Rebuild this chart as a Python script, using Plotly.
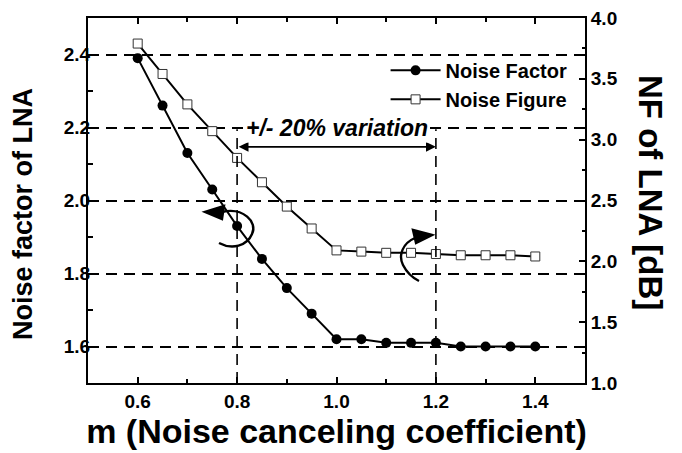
import plotly.graph_objects as go

m = [0.6, 0.65, 0.7, 0.75, 0.8, 0.85, 0.9, 0.95, 1.0, 1.05, 1.1, 1.15, 1.2, 1.25, 1.3, 1.35, 1.4]
noise_factor = [2.39, 2.26, 2.13, 2.03, 1.93, 1.84, 1.76, 1.69, 1.62, 1.62, 1.61, 1.61, 1.61, 1.60, 1.60, 1.60, 1.60]
noise_figure = [3.79, 3.54, 3.29, 3.07, 2.85, 2.65, 2.45, 2.27, 2.09, 2.08, 2.07, 2.07, 2.06, 2.05, 2.05, 2.05, 2.04]

variation_lo, variation_hi = 0.8, 1.2

FONT = "Liberation Sans, Arial, sans-serif"
DASH = "11px,7px"

# the page body adds an 8px offset, so the figure is drawn 8px smaller
OFF = 8
W, H = 682 - OFF, 453 - OFF
ML, MR, MT, MB = 88 - OFF, 97, 18 - OFF, 70
PW, PH = W - ML - MR, H - MT - MB
X0, Y1 = 88, 383   # plot area left / bottom on the page


def pp(px, py):
    # page pixel position -> paper coordinates
    return "{:.4f},{:.4f}".format((px - X0) / PW, (Y1 - py) / PH)


def curve(start, *segs):
    s = "M " + pp(*start)
    for c1, c2, end in segs:
        s += " C " + pp(*c1) + " " + pp(*c2) + " " + pp(*end)
    return s


def tri(a, b, c):
    return "M " + pp(*a) + " L " + pp(*b) + " L " + pp(*c) + " Z"


fig = go.Figure()
fig.add_trace(go.Scatter(x=m, y=noise_factor, mode='lines+markers', name='Noise Factor',
                         line=dict(color='black', width=2),
                         marker=dict(symbol='circle', size=10, color='black')))
fig.add_trace(go.Scatter(x=m, y=noise_figure, mode='lines+markers', name='Noise Figure', yaxis='y2',
                         line=dict(color='black', width=2),
                         marker=dict(symbol='square', size=9, color='white', line=dict(color='#333', width=1))))

# vertical dashed guides at +/- 20%
for xv in (variation_lo, variation_hi):
    fig.add_shape(type='line', x0=xv, x1=xv, y0=1.5, y1=2.195, xref='x', yref='y',
                  line=dict(color='black', width=1.6, dash=DASH))

# double headed arrow
fig.add_annotation(x=variation_hi, y=2.147, ax=variation_lo, ay=2.147, xref='x', yref='y', axref='x', ayref='y',
                   text='', showarrow=True, arrowhead=2, arrowside='end+start', arrowsize=1.1,
                   arrowwidth=1.8, arrowcolor='black')
fig.add_annotation(x=1.0, y=2.2, xref='x', yref='y', text='+/- 20% variation', showarrow=False,
                   bgcolor='white', borderpad=1,
                   font=dict(family=FONT, size=23, color='black', weight='bold', style='italic'))

# curved arrows pointing to the axes
arc = dict(type='path', xref='paper', yref='paper', line=dict(color='black', width=2.4))
fig.add_shape(path=curve((222, 212), ((243, 207), (258, 222), (252, 234)), ((247, 246), (232, 250), (219, 243))), **arc)
fig.add_shape(path=tri((205, 212), (224, 206), (222, 219)), fillcolor='black', **arc)
fig.add_shape(path=curve((415, 238), ((403, 243), (398, 255), (403, 265)), ((407, 273), (413, 278), (419, 281))), **arc)
fig.add_shape(path=tri((432, 235), (413, 230), (416, 243)), fillcolor='black', **arc)

# axis titles on both sides
fig.add_annotation(x=(23 - X0) / PW, y=(Y1 - 214) / PH, xref='paper', yref='paper',
                   xanchor='center', yanchor='middle',
                   text='Noise factor of LNA', textangle=-90, showarrow=False,
                   font=dict(family=FONT, size=27, color='black', weight='bold'))
fig.add_annotation(x=(651 - X0) / PW, y=(Y1 - 192) / PH, xref='paper', yref='paper',
                   xanchor='center', yanchor='middle',
                   text='NF of LNA [dB]', textangle=90, showarrow=False,
                   font=dict(family=FONT, size=33, color='black', weight='bold'))

axis_common = dict(showline=True, linecolor='black', linewidth=2, ticks='inside', ticklen=6, tickwidth=1.5,
                   tickcolor='black', tickfont=dict(family=FONT, size=19, color='black', weight='bold'),
                   zeroline=False, automargin=False, ticklabeloverflow='allow')

fig.update_layout(
    width=W, height=H,
    margin=dict(l=ML, r=MR, t=MT, b=MB),
    plot_bgcolor='white', paper_bgcolor='white',
    font=dict(family=FONT, color='black'),
    showlegend=True,
    legend=dict(x=0.975, y=0.91, xanchor='right', yanchor='top', bgcolor='rgba(0,0,0,0)',
                font=dict(family=FONT, size=20, color='black', weight='bold'), tracegroupgap=0,
                itemwidth=50),
    xaxis=dict(range=[0.5, 1.5], dtick=0.2, tickformat='.1f', mirror='ticks', showgrid=False,
               minor=dict(dtick=0.1, ticks='inside', ticklen=4, tickcolor='black', showgrid=False),
               title=dict(text='m (Noise canceling coefficient)', standoff=6,
                          font=dict(family=FONT, size=34, color='black', weight='bold')),
               **axis_common),
    yaxis=dict(range=[1.5, 2.5], dtick=0.2, tickformat='.1f', showgrid=True, gridcolor='black',
               gridwidth=1.6, griddash=DASH, ticklabelstandoff=-8,
               minor=dict(dtick=0.1, ticks='inside', ticklen=5, tickcolor='black', showgrid=False),
               **axis_common),
    yaxis2=dict(range=[1.0, 4.0], dtick=0.5, tickformat='.1f', overlaying='y', side='right', showgrid=False,
                minor=dict(dtick=0.25, ticks='inside', ticklen=3, tickcolor='black', showgrid=False),
                **axis_common),
)

fig.write_html("out.html")
